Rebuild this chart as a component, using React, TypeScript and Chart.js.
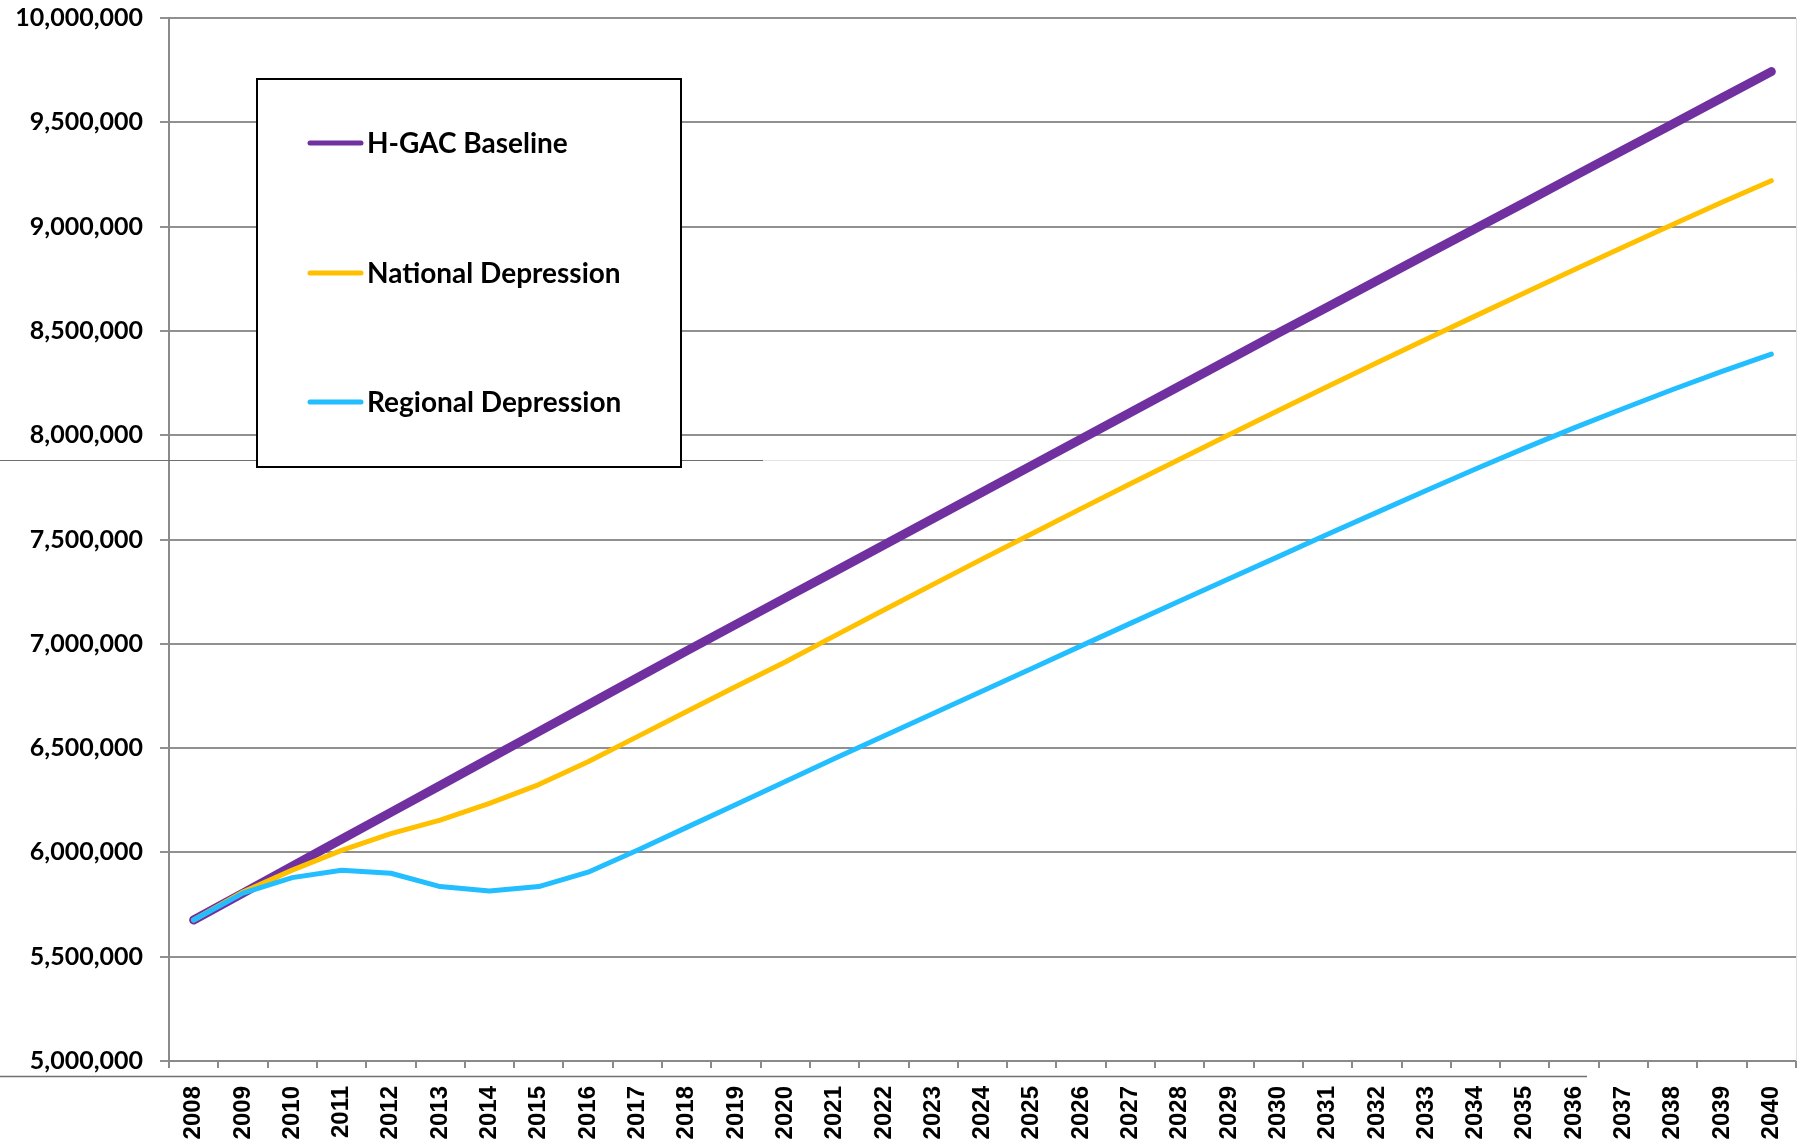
import React, { useEffect, useRef } from 'react';
import { Chart, registerables } from 'chart.js';

Chart.register(...registerables);

const YEARS = [
  '2008', '2009', '2010', '2011', '2012', '2013', '2014', '2015', '2016', '2017', '2018',
  '2019', '2020', '2021', '2022', '2023', '2024', '2025', '2026', '2027', '2028', '2029',
  '2030', '2031', '2032', '2033', '2034', '2035', '2036', '2037', '2038', '2039', '2040',
];

const HGAC_BASELINE = [
  5676000, 5805000, 5934000, 6063000, 6192000, 6321000, 6450000, 6579000, 6708000, 6837000, 6966000,
  7093000, 7220000, 7347000, 7474000, 7601000, 7728000, 7855000, 7982000, 8109000, 8236000, 8363000,
  8490000, 8615000, 8740000, 8866000, 8991000, 9116000, 9242000, 9367000, 9492000, 9618000, 9743000,
];

const NATIONAL_DEPRESSION = [
  5676000, 5810000, 5915000, 6010000, 6090000, 6155000, 6235000, 6325000, 6435000, 6555000, 6675000,
  6795000, 6913000, 7038000, 7162000, 7285000, 7407000, 7528000, 7648000, 7767000, 7885000, 8002000,
  8118000, 8233000, 8347000, 8460000, 8572000, 8683000, 8793000, 8902000, 9010000, 9117000, 9220000,
];

const REGIONAL_DEPRESSION = [
  5676000, 5805000, 5879000, 5914000, 5900000, 5836000, 5815000, 5836000, 5905000, 6010000, 6120000,
  6230000, 6340000, 6450000, 6558000, 6666000, 6774000, 6882000, 6990000, 7098000, 7205000, 7312000,
  7418000, 7525000, 7630000, 7735000, 7838000, 7938000, 8035000, 8128000, 8219000, 8306000, 8389000,
];

const SERIES_NAMES = ['H-GAC Baseline', 'National Depression', 'Regional Depression'];
const SERIES_COLORS = ['#7030A0', '#FFC000', '#22BEFF'];

const Y_MIN = 5000000;
const Y_MAX = 10000000;
const Y_STEP = 500000;

const artifactPlugin = {
  id: 'artifacts',
  beforeDatasetsDraw(chart: any) {
    const ctx = chart.ctx;
    const area = chart.chartArea;
    ctx.save();
    ctx.lineWidth = 1;
    ctx.strokeStyle = '#e4e4e4';
    ctx.beginPath();
    ctx.moveTo(763, 460.5);
    ctx.lineTo(area.right, 460.5);
    ctx.stroke();
    ctx.strokeStyle = '#6e6e6e';
    ctx.beginPath();
    ctx.moveTo(0, 460.5);
    ctx.lineTo(763, 460.5);
    ctx.stroke();
    ctx.strokeStyle = '#e0e0e0';
    ctx.beginPath();
    ctx.moveTo(area.right + 0.5, area.top);
    ctx.lineTo(area.right + 0.5, area.bottom);
    ctx.stroke();
    ctx.restore();
  },
  afterDraw(chart: any) {
    const ctx = chart.ctx;
    ctx.save();
    ctx.lineWidth = 1.5;
    ctx.strokeStyle = '#707070';
    ctx.beginPath();
    ctx.moveTo(0, 1076.5);
    ctx.lineTo(1587, 1076.5);
    ctx.stroke();
    ctx.restore();
  },
};

const legendPlugin = {
  id: 'boxLegend',
  afterDraw(chart: any) {
    const ctx = chart.ctx;
    ctx.save();
    ctx.fillStyle = '#ffffff';
    ctx.fillRect(257, 79, 424, 388);
    ctx.lineWidth = 2;
    ctx.strokeStyle = '#000000';
    ctx.strokeRect(257, 79, 424, 388);
    const rows = [143, 273, 402];
    ctx.font = 'bold 28px Lato';
    ctx.textBaseline = 'middle';
    ctx.textAlign = 'left';
    SERIES_NAMES.forEach((name, i) => {
      const y = rows[i];
      ctx.strokeStyle = SERIES_COLORS[i];
      ctx.lineWidth = 5;
      ctx.lineCap = 'round';
      ctx.beginPath();
      ctx.moveTo(310, y);
      ctx.lineTo(361, y);
      ctx.stroke();
      ctx.fillStyle = '#000000';
      ctx.fillText(name, 367, y + 1);
    });
    ctx.restore();
  },
};

export default function App() {
  const ref = useRef<HTMLCanvasElement>(null);

  useEffect(() => {
    if (!ref.current) return;
    const chart = new Chart(ref.current, {
      type: 'line',
      data: {
        labels: YEARS,
        datasets: [
          {
            label: SERIES_NAMES[0],
            data: HGAC_BASELINE,
            borderColor: SERIES_COLORS[0],
            backgroundColor: SERIES_COLORS[0],
            borderWidth: 9,
            order: 3,
          },
          {
            label: SERIES_NAMES[1],
            data: NATIONAL_DEPRESSION,
            borderColor: SERIES_COLORS[1],
            backgroundColor: SERIES_COLORS[1],
            borderWidth: 5,
            order: 2,
          },
          {
            label: SERIES_NAMES[2],
            data: REGIONAL_DEPRESSION,
            borderColor: SERIES_COLORS[2],
            backgroundColor: SERIES_COLORS[2],
            borderWidth: 5,
            order: 1,
          },
        ],
      },
      options: {
        responsive: false,
        animation: false,
        devicePixelRatio: 1,
        layout: { padding: { left: 0, top: 18, right: 13, bottom: 0 } },
        plugins: {
          legend: { display: false },
          tooltip: { enabled: false },
        },
        elements: {
          point: { radius: 0, hoverRadius: 0 },
          line: { tension: 0, borderCapStyle: 'round', borderJoinStyle: 'round', fill: false },
        },
        scales: {
          x: {
            offset: true,
            grid: {
              offset: true,
              drawOnChartArea: false,
              drawTicks: true,
              tickLength: 7,
              color: '#8a8a8a',
              lineWidth: 2,
            },
            border: { display: true, color: '#8a8a8a', width: 2 },
            ticks: {
              autoSkip: false,
              minRotation: 90,
              maxRotation: 90,
              padding: 18,
              color: '#000000',
              font: { family: 'Liberation Sans', size: 24, weight: 'bold' },
            },
            afterFit: (s: any) => {
              s.height = 87;
              s.paddingLeft = 0;
              s.paddingRight = 0;
              s.paddingTop = 0;
              s.paddingBottom = 0;
            },
          },
          y: {
            min: Y_MIN,
            max: Y_MAX,
            ticks: {
              stepSize: Y_STEP,
              padding: 17,
              color: '#000000',
              font: { family: 'Lato', size: 25, weight: 'bold' },
              callback: (v: any) => Number(v).toLocaleString('en-US'),
            },
            grid: { color: '#909090', lineWidth: 2, tickLength: 9 },
            border: { display: true, color: '#8a8a8a', width: 2 },
            afterFit: (s: any) => {
              s.width = 169;
              s.paddingLeft = 0;
              s.paddingRight = 0;
              s.paddingTop = 0;
              s.paddingBottom = 0;
            },
          },
        },
      },
      plugins: [artifactPlugin, legendPlugin],
    } as any);
    return () => chart.destroy();
  }, []);

  return (
    <div style={{ position: 'absolute', left: 0, top: 0, width: 1809, height: 1148, background: '#ffffff' }}>
      <canvas ref={ref} width={1809} height={1148} style={{ display: 'block' }} />
    </div>
  );
}
